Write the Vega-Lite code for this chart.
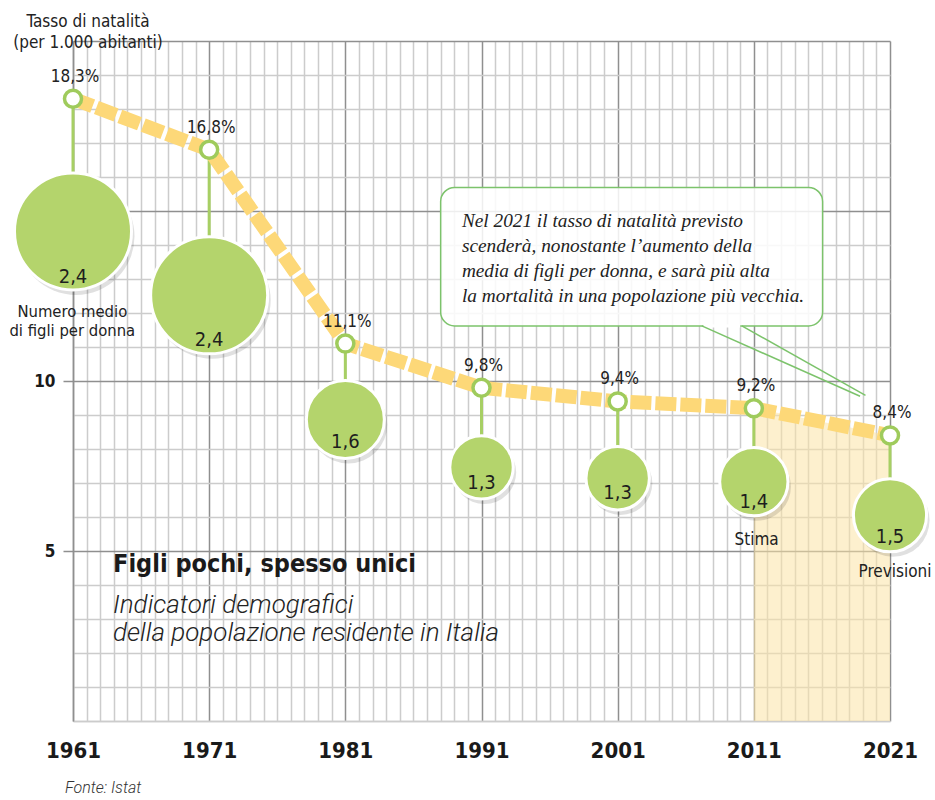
{
  "$schema": "https://vega.github.io/schema/vega-lite/v6.json",
  "width": 817,
  "height": 680,
  "autosize": "none",
  "padding": {"left": 73, "top": 41, "right": 45, "bottom": 79},
  "background": "white",
  "config": {
    "view": {"stroke": null},
    "locale": {"number": {"decimal": ",", "thousands": ".", "grouping": [3], "currency": ["", "%"]}}
  },
  "datasets": {
    "natalita": [
      {"anno": 1961, "tasso": 18.3, "figli": 2.4, "pos_bolla": 14.4, "pos_etichetta": 13.05},
      {"anno": 1971, "tasso": 16.8, "figli": 2.4, "pos_bolla": 12.52, "pos_etichetta": 11.2},
      {"anno": 1981, "tasso": 11.1, "figli": 1.6, "pos_bolla": 8.87, "pos_etichetta": 8.2},
      {"anno": 1991, "tasso": 9.8, "figli": 1.3, "pos_bolla": 7.46, "pos_etichetta": 6.99},
      {"anno": 2001, "tasso": 9.4, "figli": 1.3, "pos_bolla": 7.14, "pos_etichetta": 6.7},
      {"anno": 2011, "tasso": 9.2, "figli": 1.4, "pos_bolla": 7.04, "pos_etichetta": 6.43},
      {"anno": 2021, "tasso": 8.4, "figli": 1.5, "pos_bolla": 6.05, "pos_etichetta": 5.4}
    ]
  },
  "data": {"name": "natalita"},
  "layer": [
    {
      "transform": [{"filter": "datum.anno >= 2011"}],
      "mark": {"type": "area", "color": "#fce4a6", "opacity": 0.55},
      "encoding": {
        "x": {
          "field": "anno", "type": "quantitative", "title": null,
          "scale": {"domain": [1961, 2021], "nice": false, "zero": false},
          "axis": {
            "values": [1961,1962,1963,1964,1965,1966,1967,1968,1969,1970,1971,1972,1973,1974,1975,1976,1977,1978,1979,1980,1981,1982,1983,1984,1985,1986,1987,1988,1989,1990,1991,1992,1993,1994,1995,1996,1997,1998,1999,2000,2001,2002,2003,2004,2005,2006,2007,2008,2009,2010,2011,2012,2013,2014,2015,2016,2017,2018,2019,2020,2021],
            "tickCount": 200,
            "format": "d",
            "labelExpr": "datum.value % 10 == 1 ? datum.label : ''",
            "grid": true,
            "gridColor": {"condition": {"test": "datum.value % 10 == 1", "value": "#8f8f8f"}, "value": "#cccccc"},
            "gridWidth": 1.5,
            "ticks": false,
            "domain": true,
            "domainColor": "#cccccc",
            "domainWidth": 1.5,
            "labelFont": "DejaVu Sans Condensed, sans-serif",
            "labelFontSize": 22,
            "labelFontWeight": "bold",
            "labelColor": "#1a1a1a",
            "labelPadding": 19,
            "labelFlush": false,
            "labelOverlap": false
          }
        },
        "y": {
          "field": "tasso", "type": "quantitative", "title": null,
          "scale": {"domain": [0, 20], "nice": false},
          "axis": {
            "values": [0,1,2,3,4,5,6,7,8,9,10,11,12,13,14,15,16,17,18,19,20],
            "tickCount": 200,
            "format": "d",
            "labelExpr": "datum.value == 5 || datum.value == 10 ? datum.label : ''",
            "grid": true,
            "gridColor": {"condition": {"test": "datum.value % 5 == 0 && datum.value > 0", "value": "#8f8f8f"}, "value": "#cccccc"},
            "gridWidth": 1.5,
            "ticks": true,
            "tickSize": 10,
            "tickWidth": 1.5,
            "tickColor": {"condition": {"test": "datum.value == 5 || datum.value == 10", "value": "#8f8f8f"}, "value": "transparent"},
            "domain": true,
            "domainColor": "#8f8f8f",
            "domainWidth": 1.5,
            "labelFont": "DejaVu Sans Condensed, sans-serif",
            "labelFontSize": 17,
            "labelFontWeight": "bold",
            "labelColor": "#1a1a1a",
            "labelPadding": 8,
            "labelOverlap": false
          }
        },
        "y2": {"datum": 0}
      }
    },
    {
      "mark": {"type": "rule", "color": "#a7cf64", "strokeWidth": 3},
      "encoding": {
        "x": {"field": "anno", "type": "quantitative", "title": null},
        "y": {"field": "tasso", "type": "quantitative", "title": null},
        "y2": {"field": "pos_bolla"}
      }
    },
    {
      "mark": {"type": "line", "color": "#fdd878", "strokeWidth": 14, "strokeDash": [21, 4], "strokeCap": "butt"},
      "encoding": {
        "x": {"field": "anno", "type": "quantitative", "title": null},
        "y": {"field": "tasso", "type": "quantitative", "title": null}
      }
    },
    {
      "mark": {"type": "circle", "color": "#000000", "opacity": 0.12, "xOffset": 3, "yOffset": 5},
      "encoding": {
        "x": {"field": "anno", "type": "quantitative", "title": null},
        "y": {"field": "pos_bolla", "type": "quantitative", "title": null},
        "size": {"field": "figli", "type": "quantitative", "legend": null, "scale": {"type": "pow", "exponent": 2, "domain": [0, 2.4], "range": [0, 13690]}}
      }
    },
    {
      "mark": {"type": "circle", "color": "#b4d46c", "opacity": 1, "stroke": "white", "strokeWidth": 3},
      "encoding": {
        "x": {"field": "anno", "type": "quantitative", "title": null},
        "y": {"field": "pos_bolla", "type": "quantitative", "title": null},
        "size": {"field": "figli", "type": "quantitative", "legend": null}
      }
    },
    {
      "mark": {"type": "point", "shape": "circle", "filled": true, "fill": "white", "stroke": "#9fcb5c", "strokeWidth": 3.5, "size": 290, "opacity": 1},
      "encoding": {
        "x": {"field": "anno", "type": "quantitative", "title": null},
        "y": {"field": "tasso", "type": "quantitative", "title": null}
      }
    },
    {
      "mark": {"type": "text", "dy": -22, "dx": 2, "baseline": "middle", "font": "DejaVu Sans Condensed, sans-serif", "fontSize": 17, "color": "#222222"},
      "encoding": {
        "x": {"field": "anno", "type": "quantitative", "title": null},
        "y": {"field": "tasso", "type": "quantitative", "title": null},
        "text": {"field": "tasso", "type": "quantitative", "format": "$.1f"}
      }
    },
    {
      "mark": {"type": "text", "baseline": "middle", "font": "DejaVu Sans Condensed, sans-serif", "fontSize": 20, "color": "#1e1e1e"},
      "encoding": {
        "x": {"field": "anno", "type": "quantitative", "title": null},
        "y": {"field": "pos_etichetta", "type": "quantitative", "title": null},
        "text": {"field": "figli", "type": "quantitative", "format": ".1f"}
      }
    },
    {
      "data": {"values": [{}]},
      "mark": {"type": "rect", "fill": "white", "fillOpacity": 0.85, "stroke": "#7cc36b", "strokeWidth": 1.5, "cornerRadius": 14},
      "encoding": {
        "x": {"datum": 1988.0, "type": "quantitative"},
        "x2": {"datum": 2016.05},
        "y": {"datum": 15.69, "type": "quantitative"},
        "y2": {"datum": 11.62}
      }
    },
    {
      "data": {"values": [{}]},
      "mark": {"type": "rule", "color": "white", "strokeWidth": 3},
      "encoding": {
        "x": {"datum": 2007.3, "type": "quantitative"},
        "x2": {"datum": 2010.0},
        "y": {"datum": 11.62, "type": "quantitative"}
      }
    },
    {
      "data": {"values": [{}]},
      "mark": {"type": "rule", "color": "#7cc36b", "strokeWidth": 1.5},
      "encoding": {
        "x": {"datum": 2007.18, "type": "quantitative"},
        "x2": {"datum": 2018.8},
        "y": {"datum": 11.62, "type": "quantitative"},
        "y2": {"datum": 9.55}
      }
    },
    {
      "data": {"values": [{}]},
      "mark": {"type": "rule", "color": "#7cc36b", "strokeWidth": 1.5},
      "encoding": {
        "x": {"datum": 2010.12, "type": "quantitative"},
        "x2": {"datum": 2019.2},
        "y": {"datum": 11.62, "type": "quantitative"},
        "y2": {"datum": 9.58}
      }
    },
    {
      "data": {"values": [{}]},
      "mark": {"type": "text", "align": "left", "baseline": "alphabetic", "font": "Liberation Serif, DejaVu Serif, serif", "fontStyle": "italic", "fontSize": 19.3, "lineHeight": 25, "color": "#222222",
        "text": ["Nel 2021 il tasso di natalità previsto", "scenderà, nonostante l’aumento della", "media di figli per donna, e sarà più alta", "la mortalità in una popolazione più vecchia."]},
      "encoding": {
        "x": {"datum": 1989.56, "type": "quantitative"},
        "y": {"datum": 14.53, "type": "quantitative"}
      }
    },
    {
      "data": {"values": [{}]},
      "mark": {"type": "text", "align": "center", "baseline": "alphabetic", "font": "DejaVu Sans Condensed, sans-serif", "fontSize": 17, "lineHeight": 21, "color": "#222222",
        "text": ["Tasso di natalità", "(per 1.000 abitanti)"]},
      "encoding": {
        "x": {"datum": 1962.1, "type": "quantitative"},
        "y": {"datum": 20.4, "type": "quantitative"}
      }
    },
    {
      "data": {"values": [{}]},
      "mark": {"type": "text", "align": "center", "baseline": "alphabetic", "font": "DejaVu Sans Condensed, sans-serif", "fontSize": 16.5, "lineHeight": 19, "color": "#222222",
        "text": ["Numero medio", "di figli per donna"]},
      "encoding": {
        "x": {"datum": 1960.95, "type": "quantitative"},
        "y": {"datum": 11.88, "type": "quantitative"}
      }
    },
    {
      "data": {"values": [{}]},
      "mark": {"type": "text", "align": "center", "baseline": "alphabetic", "font": "DejaVu Sans Condensed, sans-serif", "fontSize": 17, "color": "#222222", "text": "Stima"},
      "encoding": {
        "x": {"datum": 2011.2, "type": "quantitative"},
        "y": {"datum": 5.17, "type": "quantitative"}
      }
    },
    {
      "data": {"values": [{}]},
      "mark": {"type": "text", "align": "right", "baseline": "alphabetic", "font": "DejaVu Sans Condensed, sans-serif", "fontSize": 17, "color": "#222222", "text": "Previsioni"},
      "encoding": {
        "x": {"datum": 2024.05, "type": "quantitative"},
        "y": {"datum": 4.24, "type": "quantitative"}
      }
    },
    {
      "data": {"values": [{}]},
      "mark": {"type": "text", "align": "left", "baseline": "alphabetic", "font": "DejaVu Sans Condensed, sans-serif", "fontSize": 25, "fontWeight": "bold", "color": "#1a1a1a", "text": "Figli pochi, spesso unici"},
      "encoding": {
        "x": {"datum": 1963.94, "type": "quantitative"},
        "y": {"datum": 4.37, "type": "quantitative"}
      }
    },
    {
      "data": {"values": [{}]},
      "mark": {"type": "text", "align": "left", "baseline": "alphabetic", "font": "Roboto, Liberation Sans, sans-serif", "fontStyle": "italic", "fontWeight": 300, "fontSize": 26, "lineHeight": 28, "color": "#222222",
        "text": ["Indicatori demografici", "della popolazione residente in Italia"]},
      "encoding": {
        "x": {"datum": 1963.94, "type": "quantitative"},
        "y": {"datum": 3.17, "type": "quantitative"}
      }
    },
    {
      "data": {"values": [{}]},
      "mark": {"type": "text", "align": "left", "baseline": "alphabetic", "font": "Roboto, Liberation Sans, sans-serif", "fontStyle": "italic", "fontWeight": 300, "fontSize": 16, "color": "#333333", "text": "Fonte: Istat"},
      "encoding": {
        "x": {"datum": 1960.41, "type": "quantitative"},
        "y": {"datum": -2.12, "type": "quantitative"}
      }
    }
  ]
}
